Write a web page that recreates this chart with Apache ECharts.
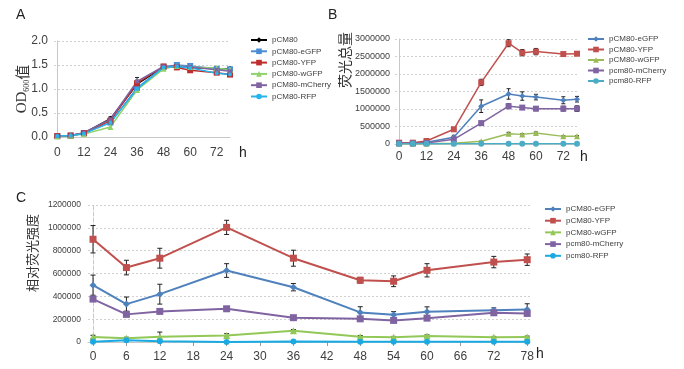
<!DOCTYPE html>
<html>
<head>
<meta charset="utf-8">
<script src="https://cdn.jsdelivr.net/npm/echarts@6/dist/echarts.min.js"></script>
<style>
  html, body { margin: 0; padding: 0; background: #fff; }
  #chart { width: 684px; height: 369px; }
</style>
</head>
<body>
<div id="chart"></div>
<script>
// sampling times (h)
const hours = [0, 6, 12, 24, 36, 48, 54, 60, 72, 78];
const ticksAB = [0, 12, 24, 36, 48, 60, 72];
const ticksC = [0, 6, 12, 18, 24, 30, 36, 42, 48, 54, 60, 66, 72, 78];

// A: OD600
const odPCM80 = [0.02, 0.03, 0.08, 0.38, 1.10, 1.46, 1.47, 1.45, 1.42, 1.42];
const odPCM80Err = [0.01, 0.01, 0.01, 0.04, 0.14, 0.03, 0.02, 0.02, 0.02, 0.03];
const odEGFP = [0.02, 0.03, 0.08, 0.30, 1.02, 1.46, 1.50, 1.48, 1.42, 1.41];
const odYFP = [0.02, 0.03, 0.08, 0.34, 1.12, 1.47, 1.45, 1.39, 1.34, 1.30];
const odWGFP = [0.01, 0.03, 0.06, 0.21, 0.98, 1.42, 1.48, 1.46, 1.43, 1.40];
const odMCherry = [0.02, 0.03, 0.09, 0.37, 1.16, 1.47, 1.48, 1.46, 1.40, 1.37];
const odRFP = [0.02, 0.03, 0.07, 0.30, 1.00, 1.45, 1.47, 1.44, 1.33, 1.30];

// B: total fluorescence
const totEGFP = [19000, 19000, 47000, 190000, 1080000, 1430000, 1370000, 1340000, 1250000, 1280000];
const totEGFPErr = [5000, 5000, 10000, 60000, 180000, 150000, 120000, 80000, 100000, 80000];
const totYFP = [38000, 38000, 85000, 420000, 1760000, 2880000, 2610000, 2640000, 2570000, 2580000];
const totYFPErr = [10000, 10000, 15000, 20000, 90000, 100000, 90000, 90000, 30000, 30000];
const totWGFP = [9000, 9000, 9000, 19000, 76000, 294000, 275000, 313000, 218000, 218000];
const totWGFPErr = [0, 0, 0, 5000, 10000, 40000, 20000, 30000, 20000, 20000];
const totMCherry = [19000, 19000, 28000, 133000, 597000, 1080000, 1040000, 1010000, 1010000, 1010000];
const totMCherryErr = [5000, 5000, 5000, 20000, 50000, 70000, 40000, 60000, 70000, 80000];
const totRFP = [4000, 4000, 4000, 4000, 5000, 5000, 5000, 5000, 5000, 5000];

// C: relative fluorescence intensity
const relEGFP = [498000, 332000, 419000, 626000, 480000, 259000, 238000, 265000, 279000, 285000];
const relEGFPErr = [88000, 62000, 87000, 60000, 32000, 50000, 28000, 43000, 20000, 50000];
const relYFP = [900000, 652000, 734000, 1004000, 734000, 541000, 532000, 628000, 700000, 721000];
const relYFPErr = [120000, 64000, 87000, 62000, 70000, 25000, 47000, 58000, 50000, 50000];
const relWGFP = [44000, 32000, 47000, 58000, 99000, 47000, 41000, 52000, 41000, 44000];
const relWGFPErr = [15000, 10000, 40000, 15000, 10000, 10000, 8000, 10000, 8000, 8000];
const relMCherry = [376000, 242000, 268000, 291000, 213000, 203000, 189000, 209000, 256000, 250000];
const relMCherryErr = [8000, 8000, 8000, 8000, 8000, 8000, 8000, 8000, 8000, 8000];
const relRFP = [2000, 15000, 6000, 0, 4000, 2000, 2000, 2000, 2000, 2000];

const FONT = "'Liberation Sans', Arial, sans-serif";
const CJK = "'Noto Sans CJK SC', sans-serif";
const TXT = '#404040';

function line(panel, name, idx, ys, color, symbol, size, width) {
  return {
    name: panel + ':' + name,
    type: 'line',
    xAxisIndex: idx,
    yAxisIndex: idx,
    data: hours.map((h, i) => [h, ys[i]]),
    symbol: symbol,
    symbolSize: size,
    lineStyle: { color: color, width: width },
    itemStyle: { color: color },
    z: 3,
    animation: false
  };
}

function errBars(idx, ys, errs, cap) {
  return {
    type: 'custom',
    xAxisIndex: idx,
    yAxisIndex: idx,
    data: hours.map((h, i) => [h, ys[i] - errs[i], ys[i] + errs[i]]).filter((d, i) => errs[i] > 0),
    encode: { x: 0, y: [1, 2] },
    renderItem: (params, api) => {
      const lo = api.coord([api.value(0), api.value(1)]);
      const hi = api.coord([api.value(0), api.value(2)]);
      const st = { stroke: '#222', lineWidth: 1 };
      return {
        type: 'group',
        children: [
          { type: 'line', shape: { x1: lo[0], y1: lo[1], x2: hi[0], y2: hi[1] }, style: st },
          { type: 'line', shape: { x1: hi[0] - cap, y1: hi[1], x2: hi[0] + cap, y2: hi[1] }, style: st },
          { type: 'line', shape: { x1: lo[0] - cap, y1: lo[1], x2: lo[0] + cap, y2: lo[1] }, style: st }
        ]
      };
    },
    z: 2,
    silent: true,
    animation: false
  };
}

function xAxis(idx, min, max, ticks, margin, showTicks) {
  return {
    type: 'value', gridIndex: idx, min: min, max: max,
    axisLine: { lineStyle: { color: '#c8c8c8' } },
    axisTick: { show: showTicks, customValues: ticks, length: 4, lineStyle: { color: '#999' } },
    axisLabel: { customValues: ticks, fontSize: 12, color: TXT, fontFamily: FONT, margin: margin },
    splitLine: { show: false }
  };
}

function yAxis(idx, max, interval, fontSize, margin, fmt, dashedAxis) {
  return {
    type: 'value', gridIndex: idx, min: 0, max: max, interval: interval,
    axisLine: { show: true, lineStyle: { color: '#c8c8c8', type: dashedAxis ? 'dashed' : 'solid' } },
    axisTick: { show: false },
    axisLabel: { fontSize: fontSize, color: TXT, fontFamily: FONT, margin: margin, formatter: fmt },
    splitLine: { lineStyle: { color: '#d0d0d0', type: [2, 2] } }
  };
}

function legend(panel, names, left, top, gap) {
  return {
    orient: 'vertical', left: left, top: top, padding: 0,
    itemWidth: 16, itemHeight: 7, itemGap: gap,
    data: names.map(n => panel + ':' + n),
    formatter: n => n.split(':')[1],
    textStyle: { fontSize: 8, color: TXT, fontFamily: FONT, lineHeight: 10 },
    selectedMode: false
  };
}

const BLUE = '#4F81BD', RED = '#C0504D', GREEN = '#9BBB59', PURPLE = '#8064A2';

const namesA = ['pCM80', 'pCM80-eGFP', 'pCM80-YFP', 'pCM80-wGFP', 'pCM80-mCherry', 'pCM80-RFP'];
const namesBC = ['pCM80-eGFP', 'pCM80-YFP', 'pCM80-wGFP', 'pcm80-mCherry', 'pcm80-RFP'];

const plain = v => String(v);

const chart = echarts.init(document.getElementById('chart'), null, { renderer: 'canvas' });

chart.setOption({
  backgroundColor: '#fff',
  animation: false,
  grid: [
    { left: 54, top: 41, width: 176, height: 96 },
    { left: 395, top: 39, width: 182, height: 105 },
    { left: 88, top: 205, width: 442, height: 137 }
  ],
  xAxis: [
    xAxis(0, -1.5, 78, ticksAB, 10, false),
    xAxis(1, -1.8, 78, ticksAB, 7, false),
    xAxis(2, -0.9, 78.5, ticksC, 9, true)
  ],
  yAxis: [
    yAxis(0, 2, 0.5, 12, 6, v => v.toFixed(1), false),
    yAxis(1, 3000000, 500000, 9, 5, plain, false),
    yAxis(2, 1200000, 200000, 8.5, 7, plain, true)
  ],
  legend: [
    legend('A', namesA, 250, 35, 1.3),
    legend('B', namesBC, 587, 34, 0.5),
    legend('C', namesBC, 544, 204, 1.7)
  ],
  graphic: [
    { type: 'text', x: 16, y: 8, style: { text: 'A', fontSize: 14, fontFamily: FONT, fill: '#222' } },
    { type: 'text', x: 328, y: 8, style: { text: 'B', fontSize: 14, fontFamily: FONT, fill: '#222' } },
    { type: 'text', x: 16, y: 191, style: { text: 'C', fontSize: 14, fontFamily: FONT, fill: '#222' } },
    { type: 'text', x: 239, y: 146, style: { text: 'h', fontSize: 14, fontFamily: FONT, fill: '#222' } },
    { type: 'text', x: 580, y: 150, style: { text: 'h', fontSize: 14, fontFamily: FONT, fill: '#222' } },
    { type: 'text', x: 536, y: 347, style: { text: 'h', fontSize: 14, fontFamily: FONT, fill: '#222' } },
    {
      type: 'text', x: 22, y: 89, rotation: Math.PI / 2,
      style: {
        text: '{a|OD}{b|600}{c|值}', align: 'center', verticalAlign: 'middle',
        rich: {
          a: { fontSize: 15, fontFamily: "'Liberation Serif', serif", fill: '#333', lineHeight: 18, verticalAlign: 'middle' },
          b: { fontSize: 8, fontFamily: "'Liberation Serif', serif", fill: '#333', lineHeight: 18, verticalAlign: 'bottom' },
          c: { fontSize: 15, fontFamily: CJK, fill: '#333', lineHeight: 18, verticalAlign: 'middle' }
        }
      }
    },
    {
      type: 'text', x: 345, y: 60, rotation: Math.PI / 2,
      style: { text: '荧光总量', fontSize: 14, fontFamily: CJK, fill: '#333', align: 'center', verticalAlign: 'middle' }
    },
    {
      type: 'text', x: 32, y: 253, rotation: Math.PI / 2,
      style: { text: '相对荧光强度', fontSize: 13, fontFamily: CJK, fill: '#333', align: 'center', verticalAlign: 'middle' }
    }
  ],
  series: [
    // A
    errBars(0, odPCM80, odPCM80Err, 2),
    line('A', 'pCM80', 0, odPCM80, '#000000', 'diamond', 6, 1.5),
    line('A', 'pCM80-eGFP', 0, odEGFP, '#4A8DD6', 'rect', 6, 1.5),
    line('A', 'pCM80-YFP', 0, odYFP, '#BE2E2E', 'rect', 6, 1.5),
    line('A', 'pCM80-wGFP', 0, odWGFP, '#8FD16A', 'triangle', 6, 1.5),
    line('A', 'pCM80-mCherry', 0, odMCherry, '#8064A2', 'rect', 4, 1.5),
    line('A', 'pCM80-RFP', 0, odRFP, '#26B4EA', 'circle', 4, 1.5),
    // B
    errBars(1, totEGFP, totEGFPErr, 2),
    errBars(1, totYFP, totYFPErr, 2),
    errBars(1, totWGFP, totWGFPErr, 2),
    errBars(1, totMCherry, totMCherryErr, 2),
    line('B', 'pCM80-eGFP', 1, totEGFP, BLUE, 'diamond', 6, 1.5),
    line('B', 'pCM80-YFP', 1, totYFP, RED, 'rect', 6, 1.5),
    line('B', 'pCM80-wGFP', 1, totWGFP, GREEN, 'triangle', 6, 1.5),
    line('B', 'pcm80-mCherry', 1, totMCherry, PURPLE, 'rect', 6, 1.5),
    line('B', 'pcm80-RFP', 1, totRFP, '#4BACC6', 'circle', 6, 1.5),
    // C
    errBars(2, relEGFP, relEGFPErr, 2.5),
    errBars(2, relYFP, relYFPErr, 2.5),
    errBars(2, relWGFP, relWGFPErr, 2.5),
    errBars(2, relMCherry, relMCherryErr, 2.5),
    line('C', 'pCM80-eGFP', 2, relEGFP, BLUE, 'diamond', 7, 2),
    line('C', 'pCM80-YFP', 2, relYFP, RED, 'rect', 7, 2),
    line('C', 'pCM80-wGFP', 2, relWGFP, '#92C857', 'triangle', 7, 2),
    line('C', 'pcm80-mCherry', 2, relMCherry, PURPLE, 'rect', 7, 2),
    line('C', 'pcm80-RFP', 2, relRFP, '#1BA9E1', 'circle', 6, 2)
  ]
});
</script>
</body>
</html>
